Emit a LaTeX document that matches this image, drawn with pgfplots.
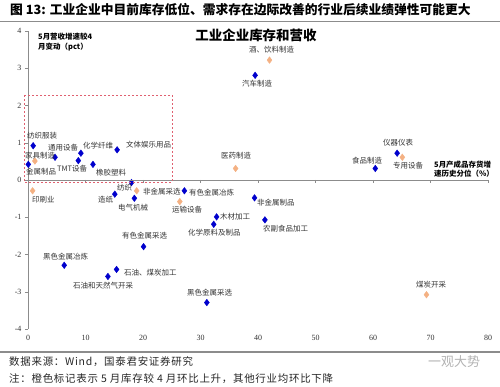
\documentclass[border=0pt]{standalone}
\usepackage{fontspec}
\setmainfont{Liberation Serif}
\newfontfamily\cjk{Noto Sans CJK SC}
\newfontfamily\cjkwide[LetterSpace=7]{Noto Sans CJK SC}
\usepackage{pgfplots}
\pgfplotsset{compat=1.18}
\definecolor{mblue}{HTML}{0000CC}
\definecolor{morange}{HTML}{F4B183}
\definecolor{axgray}{HTML}{8C8C8C}
\definecolor{boxred}{HTML}{E06070}
\newcommand{\lab}[3]{\node[anchor=west,inner sep=0pt,font=\cjk\fontsize{7.5}{8}\selectfont,text=black!80] at ({#1*1bp},{(387-#2)*1bp}) {#3};}
\begin{document}
\begin{tikzpicture}
\useasboundingbox (0,0) rectangle (500bp,387bp);
% header
\node[anchor=west,inner sep=0pt,font=\cjk\bfseries\fontsize{12.8}{14}\selectfont] at (10bp,377bp) {图 13: 工业企业中目前库存低位、需求存在边际改善的行业后续业绩弹性可能更大};
\draw[axgray,line width=1.5bp] (0,365.5bp) -- (500bp,365.5bp);
\begin{axis}[at={(28bp,58bp)}, anchor=south west, scale only axis,
  width=460bp, height=298bp, xmin=0, xmax=80, ymin=-4, ymax=4, clip=false,
  axis x line*=bottom, axis y line*=left,
  x axis line style={draw=none}, y axis line style={axgray},
  xtick={0,10,...,80}, ytick={-4,-3,...,4},
  xtick style={draw=none}, ytick style={axgray},
  tick align=outside, major tick length=3bp,
  ticklabel style={font=\fontsize{8}{9}\selectfont, text=black!80},
  /pgf/number format/assume math mode=true]
\addplot[only marks, mark=diamond*, mark size=3.3bp, color=mblue] coordinates {
(0.9,0.92) (0.05,0.42) (4.7,0.61) (9.2,0.72) (8.75,0.52) (11.3,0.42) (15.5,0.81)
(18.0,-0.07) (15.1,-0.38) (18.5,-0.49) (27.2,-0.29) (32.8,-0.99) (32.3,-1.19)
(20.1,-1.79) (64.2,0.72) (60.4,0.31) (39.4,-0.48) (41.2,-1.07) (39.5,2.81)
(6.3,-2.29) (15.4,-2.40) (13.9,-2.59) (31.1,-3.29)
};
\addplot[only marks, mark=diamond*, mark size=3.3bp, color=morange] coordinates {
(1.2,0.51) (0.8,-0.29) (18.9,-0.29) (26.4,-0.58) (36.1,0.31) (65.1,0.61)
(42.0,3.22) (69.3,-3.08)
};
\end{axis}
% zero line with ticks
\draw[axgray] (28bp,207bp) -- (488bp,207bp);
\foreach \k in {1,...,8} \draw[axgray] ({(28+\k*57.5)*1bp},207bp) -- ++(0,-3bp);
% red dashed box
\draw[boxred,dashed,dash pattern=on 2bp off 2bp,line width=0.8bp] (24bp,292bp) rectangle (172bp,205bp);
% title
\node[font=\cjk\bfseries\fontsize{13.5}{15}\selectfont] at (256bp,352bp) {工业企业库存和营收};
% axis labels
\node[anchor=north west,align=left,inner sep=0pt,font=\cjk\bfseries\fontsize{7.5}{10}\selectfont] at (38bp,354bp) {5月营收增速较4\\月变动（pct）};
\node[anchor=west,align=left,fill=white,inner sep=1bp,font=\cjk\bfseries\fontsize{7.5}{9}\selectfont] at (433bp,218bp) {5月产成品存货增\\速历史分位（\%）};
% point labels
\lab{27}{136}{纺织服装}
\lab{25}{156}{家具制造}
\lab{26}{171.5}{金属制品}
\lab{57}{169}{TMT设备}
\lab{48}{148}{通用设备}
\lab{83}{146}{化学纤维}
\lab{126}{145}{文体娱乐用品}
\lab{96}{172.5}{橡胶塑料}
\lab{32}{200}{印刷业}
\lab{117}{188}{纺织}
\lab{143}{191.5}{非金属采选}
\lab{98}{200}{造纸}
\lab{118}{208}{电气机械}
\lab{189}{192.5}{有色金属冶炼}
\lab{172}{210}{运输设备}
\lab{220}{216.5}{木材加工}
\lab{188}{233}{化学原料及制品}
\lab{221}{156}{医药制造}
\lab{122}{236}{有色金属采选}
\lab{383}{142.5}{仪器仪表}
\lab{352}{160.5}{食品制造}
\lab{393}{166}{专用设备}
\lab{257}{202.5}{非金属制品}
\lab{263}{229}{农副食品加工}
\lab{249}{50}{酒、饮料制造}
\lab{242}{84}{汽车制造}
\lab{43}{256.5}{黑色金属冶炼}
\lab{124}{272.5}{石油、煤炭加工}
\lab{73}{285.5}{石油和天然气开采}
\lab{187}{292.5}{黑色金属采选}
\lab{416}{285}{煤炭开采}
% footer
\draw[axgray,line width=1.2bp] (0,35bp) -- (500bp,35bp);
\node[anchor=west,inner sep=0pt,font=\cjkwide\fontsize{10.5}{12}\selectfont,text=black!85] at (9bp,25bp) {数据来源：Wind，国泰君安证券研究};
\node[anchor=west,inner sep=0pt,font=\cjkwide\fontsize{10.5}{12}\selectfont,text=black!85] at (9bp,8bp) {注：橙色标记表示 5 月库存较 4 月环比上升，其他行业均环比下降};
\node[anchor=west,inner sep=0pt,font=\cjk\fontsize{13}{14}\selectfont,text=black!30] at (428bp,25bp) {一观大势};
\end{tikzpicture}
\end{document}
